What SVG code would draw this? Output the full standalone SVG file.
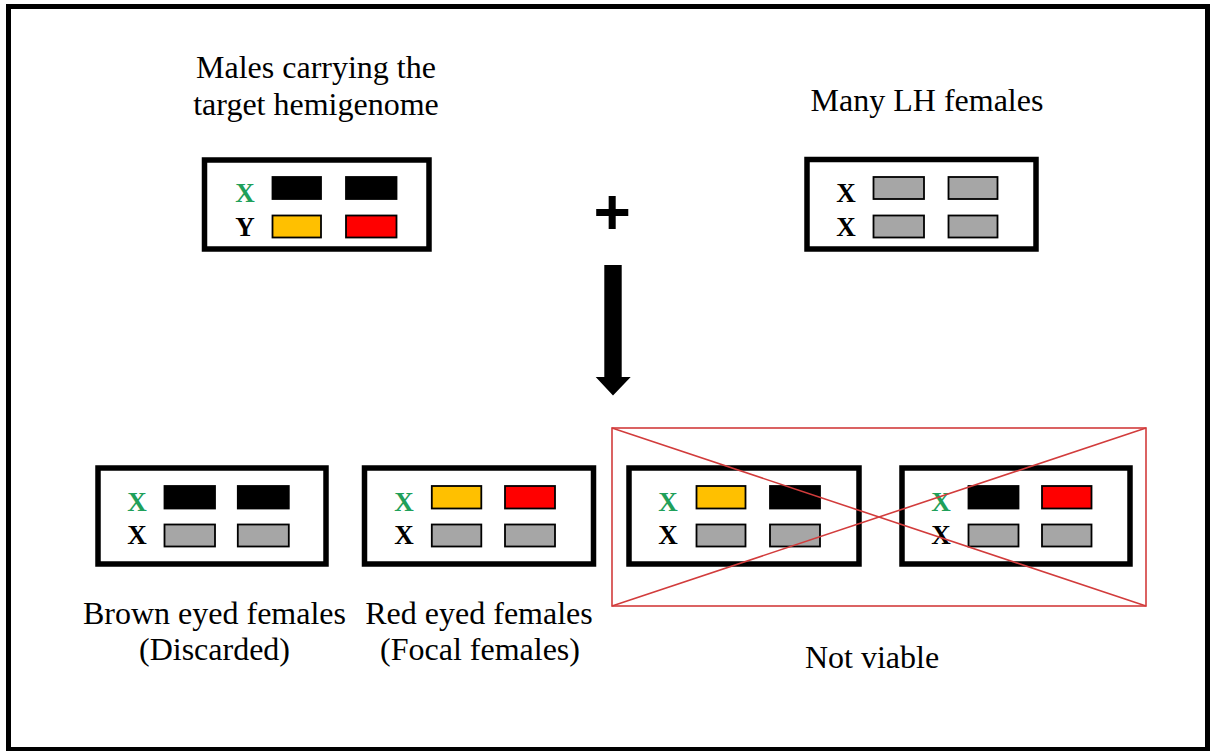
<svg xmlns="http://www.w3.org/2000/svg" width="1211" height="751" viewBox="0 0 1211 751">
  <style>
    .frame { fill: #fff; stroke: #000; stroke-width: 5; }
    .box { fill: #fff; stroke: #000; stroke-width: 5.5; }
    .chr { stroke: #000; stroke-width: 1.8; }
    .blk { fill: #000; }
    .gry { fill: #a6a6a6; }
    .org { fill: #ffc000; }
    .red { fill: #ff0000; }
    .lbl { font-family: "Liberation Serif", "Times New Roman", serif; font-size: 27px; font-weight: bold; text-anchor: middle; fill: #000; }
    .grn { fill: #1fa05a; }
    .cap { font-family: "Liberation Serif", "Times New Roman", serif; font-size: 32px; text-anchor: middle; fill: #000; }
    .cross { fill: none; stroke: #d23c3c; stroke-width: 1.6; }
  </style>

  <!-- page border -->
  <rect class="frame" x="8.5" y="6.5" width="1199" height="743"/>

  <!-- parents -->
  <g id="male-parent">
    <text class="cap" x="316" y="78">Males carrying the</text>
    <text class="cap" x="316" y="115">target hemigenome</text>
    <rect class="box" x="204.5" y="160" width="224.5" height="89"/>
    <text class="lbl grn" x="245" y="202">X</text>
    <text class="lbl" x="245" y="235.5">Y</text>
    <rect class="chr blk" x="272.5" y="177" width="48.5" height="22"/>
    <rect class="chr blk" x="346" y="177" width="50.5" height="22"/>
    <rect class="chr org" x="272.5" y="215.5" width="48.5" height="22"/>
    <rect class="chr red" x="346" y="215.5" width="50.5" height="22"/>
  </g>

  <g id="female-parent">
    <text class="cap" x="927" y="111">Many LH females</text>
    <rect class="box" x="807" y="159.5" width="229" height="89.5"/>
    <text class="lbl" x="846" y="202">X</text>
    <text class="lbl" x="846" y="235.5">X</text>
    <rect class="chr gry" x="873.5" y="177" width="50.5" height="22"/>
    <rect class="chr gry" x="948.5" y="177" width="49" height="22"/>
    <rect class="chr gry" x="873.5" y="215.5" width="50.5" height="22"/>
    <rect class="chr gry" x="948.5" y="215.5" width="49" height="22"/>
  </g>

  <text id="cross-sign" x="612.3" y="234" font-family="Liberation Sans, Arial, sans-serif" font-size="64" font-weight="bold" text-anchor="middle">+</text>

  <!-- connectors -->
  <g id="connectors">
    <polygon fill="#000" points="604.3,265 621.7,265 621.7,377 630.7,377 613,395.5 595.7,377 604.3,377"/>
  </g>

  <!-- offspring -->
  <g id="offspring-brown">
    <rect class="box" x="98" y="468" width="228" height="96"/>
    <text class="lbl grn" x="137" y="511">X</text>
    <text class="lbl" x="137" y="543.5">X</text>
    <rect class="chr blk" x="164.5" y="486" width="50.5" height="22.5"/>
    <rect class="chr blk" x="237.8" y="486" width="51" height="22.5"/>
    <rect class="chr gry" x="164.5" y="524.5" width="50.5" height="22"/>
    <rect class="chr gry" x="237.8" y="524.5" width="51" height="22"/>
    <text class="cap" x="214.5" y="624">Brown eyed females</text>
    <text class="cap" x="214.5" y="660">(Discarded)</text>
  </g>

  <g id="offspring-red">
    <rect class="box" x="364.5" y="468" width="229" height="96"/>
    <text class="lbl grn" x="404" y="511">X</text>
    <text class="lbl" x="404" y="543.5">X</text>
    <rect class="chr org" x="431.8" y="486" width="49.5" height="22.5"/>
    <rect class="chr red" x="505" y="486" width="50" height="22.5"/>
    <rect class="chr gry" x="431.8" y="524.5" width="49.5" height="22"/>
    <rect class="chr gry" x="505" y="524.5" width="50" height="22"/>
    <text class="cap" x="479" y="624">Red eyed females</text>
    <text class="cap" x="480" y="660">(Focal females)</text>
  </g>

  <g id="offspring-recomb-1">
    <rect class="box" x="629" y="468" width="230" height="96"/>
    <text class="lbl grn" x="668" y="511">X</text>
    <text class="lbl" x="668" y="543.5">X</text>
    <rect class="chr org" x="696.5" y="486" width="49" height="22.5"/>
    <rect class="chr blk" x="770" y="486" width="50" height="22.5"/>
    <rect class="chr gry" x="696.5" y="524.5" width="49" height="22"/>
    <rect class="chr gry" x="770" y="524.5" width="50" height="22"/>
  </g>

  <g id="offspring-recomb-2">
    <rect class="box" x="902" y="468" width="228" height="96"/>
    <text class="lbl grn" x="941" y="511">X</text>
    <text class="lbl" x="941" y="543.5">X</text>
    <rect class="chr blk" x="968.5" y="486" width="50" height="22.5"/>
    <rect class="chr red" x="1042" y="486" width="49.5" height="22.5"/>
    <rect class="chr gry" x="968.5" y="524.5" width="50" height="22"/>
    <rect class="chr gry" x="1042" y="524.5" width="49.5" height="22"/>
  </g>

  <!-- crossed-out (lethal) classes -->
  <g id="not-viable">
    <rect class="cross" x="612" y="428" width="534" height="178"/>
    <line class="cross" x1="612" y1="428" x2="1146" y2="606"/>
    <line class="cross" x1="1146" y1="428" x2="612" y2="606"/>
    <text class="cap" x="872" y="668">Not viable</text>
  </g>
</svg>
